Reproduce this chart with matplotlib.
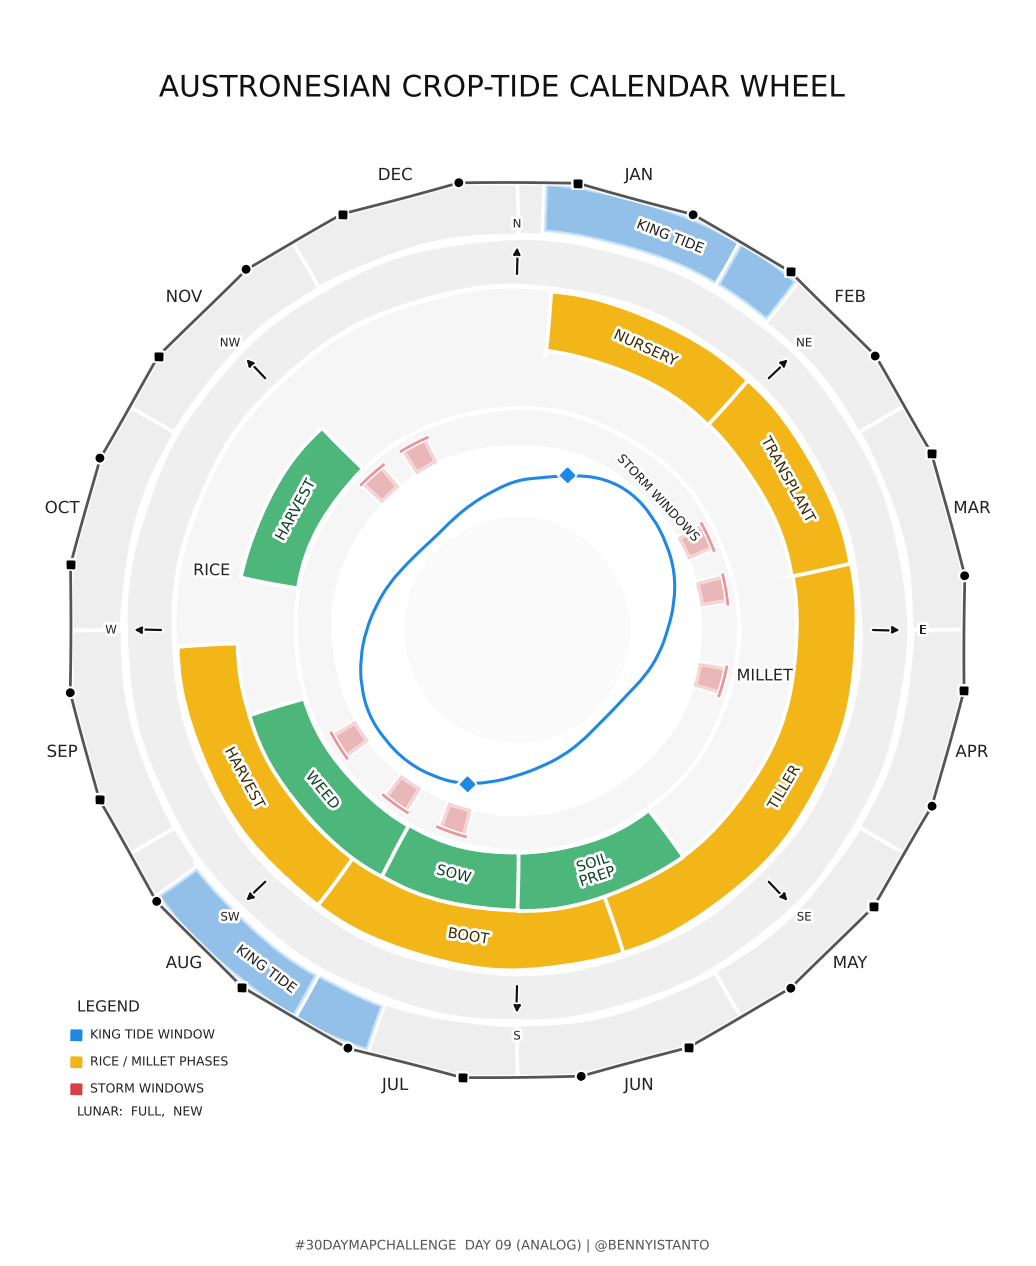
import numpy as np
import matplotlib.pyplot as plt
from matplotlib.patches import Wedge, Circle, Rectangle, PathPatch
from matplotlib.path import Path

plt.xkcd(scale=0.7, length=150, randomness=1.5)
plt.rcParams['font.family'] = ['DejaVu Sans']

title = 'AUSTRONESIAN CROP-TIDE CALENDAR WHEEL'
footer = '#30DAYMAPCHALLENGE  DAY 09 (ANALOG) | @BENNYISTANTO'

months = ['JAN', 'FEB', 'MAR', 'APR', 'MAY', 'JUN',
          'JUL', 'AUG', 'SEP', 'OCT', 'NOV', 'DEC']
compass = ['N', 'NE', 'E', 'SE', 'S', 'SW', 'W', 'NW']

# everything on the wheel is in degrees, clockwise from north (0 = start of Jan)
rice_phases = ['NURSERY', 'TRANSPLANT', 'TILLER', 'BOOT', 'HARVEST']
rice_start = [6, 43, 79, 162, 216]
rice_end = [43, 79, 162, 216, 267]

millet_phases = ['SOIL\nPREP', 'SOW', 'WEED', 'HARVEST']
millet_start = [144, 180, 209, 281]
millet_end = [180, 209, 252, 316]

king_start = [3.7, 199.5]
king_end = [38.8, 233.5]

storm_mid = [64, 79, 104, 198, 215, 237, 317, 331]
storm_width = 7

full_moon = [23.0, 52.6, 83.1, 113.0, 142.6, 171.8, 202.0, 233.0, 262.0, 292.4, 323.1, 352.6]
new_moon = [7.7, 37.3, 66.9, 97.7, 127.8, 157.7, 187.0, 217.6, 247.9, 278.3, 307.4, 337.2]

# tide line, sampled every 10 degrees (radius on the wheel)
tide_deg = [0, 10, 20, 30, 40, 50, 60, 70, 80, 90, 100, 110,
            120, 130, 140, 150, 160, 170, 180, 190, 200, 210, 220, 230,
            240, 250, 260, 270, 280, 290, 300, 310, 320, 330, 340, 350]
tide_r = [150, 155, 165, 175, 179, 177, 173, 168, 160, 151, 144, 136,
          128, 125, 125, 129, 134, 139, 146, 155, 164, 169, 172, 172,
          171, 166, 159, 151, 143, 136, 129, 125, 124, 128, 134, 141]
tide_peak = [18, 198]

legend_labels = ['KING TIDE WINDOW', 'RICE / MILLET PHASES', 'STORM WINDOWS']

BLUE = '#1e88e5'
YELLOW = '#f2b619'
GREEN = '#4db67b'
RED = '#d64045'


def xy(deg, r):
    a = np.deg2rad(np.asarray(deg, dtype=float))
    return r * np.sin(a), r * np.cos(a)


def wedge(d0, d1, r_in, r_out, **kw):
    return Wedge((0, 0), r_out, 90 - d1, 90 - d0, width=r_out - r_in, **kw)


def rot(d):
    d = d % 360
    r = -d
    if 90 < d < 270:
        r += 180
    return r


fig = plt.figure(figsize=(10.36, 12.66), dpi=100)
ax = fig.add_axes([0, 0, 1, 1])
ax.set_xlim(-517, 519)
ax.set_ylim(-636, 630)
ax.axis('off')

# month ring
for i in range(12):
    ax.add_patch(wedge(30 * i, 30 * (i + 1), 396, 448, fc='#eeeeee', ec='white', lw=1.5))

# king tide windows, split at month boundaries
# (the white halo effect paints the fill twice, so the alpha is lowered)
for s, e in zip(king_start, king_end):
    cuts = [s] + [b for b in range(0, 390, 30) if s < b < e] + [e]
    for a, b in zip(cuts[:-1], cuts[1:]):
        ax.add_patch(wedge(a, b, 398, 447, fc=(0.118, 0.533, 0.898, 0.25),
                           ec=(1, 1, 1, 0.5), lw=1.2))
    m = (s + e) / 2
    ax.text(*xy(m, 422), 'KING TIDE', fontsize=10, color='#222222',
            ha='center', va='center', rotation=rot(m))

# outer line through the lunar phases
phase_deg = sorted(full_moon + new_moon)
px, py = xy(phase_deg + phase_deg[:1], 451)
outer, = ax.plot(px, py, color='#555555', lw=2, zorder=3)
outer.set_sketch_params(0.4, 200, 1)
fx, fy = xy(full_moon, 451)
ax.plot(fx, fy, 'o', color='black', ms=5, zorder=4)
nx, ny = xy(new_moon, 451)
ax.plot(nx, ny, 's', color='black', ms=5, zorder=4)

for i, m in enumerate(months):
    ax.text(*xy(15 + 30 * i, 471), m, fontsize=12, ha='center', va='center', color='#222222')

# compass ring
ax.add_patch(Circle((0, 0), 391, fc='#efefef', ec='white', lw=2))
for i, c in enumerate(compass):
    d = 45 * i
    ax.annotate('', xy=xy(d, 383), xytext=xy(d, 356),
                arrowprops=dict(arrowstyle='-|>', color='#111111', lw=1.6,
                                mutation_scale=10, shrinkA=0, shrinkB=0))
    ax.text(*xy(d, 406), c, fontsize=8.5, ha='center', va='center', color='#222222')

# crop rings
ax.add_patch(Circle((0, 0), 343, fc='#f6f6f6', ec='white', lw=3))
for lab, s, e in zip(rice_phases, rice_start, rice_end):
    ax.add_patch(wedge(s, e, 281, 339, fc=YELLOW, ec='white', lw=1.5))
    m = (s + e) / 2
    ax.text(*xy(m, 310), lab, fontsize=10.5, color='#3a2d00', ha='center', va='center',
            rotation=rot(m))
for lab, s, e in zip(millet_phases, millet_start, millet_end):
    ax.add_patch(wedge(s, e, 224, 280, fc=GREEN, ec='white', lw=1.5))
    m = (s + e) / 2
    ax.text(*xy(m, 252), lab, fontsize=10.5, color='#0b4424', ha='center', va='center',
            rotation=rot(m), linespacing=0.95)

ax.text(*xy(281, 311), 'RICE', fontsize=11.5, ha='center', va='center', color='#222222')
ax.text(*xy(100.5, 252), 'MILLET', fontsize=11.5, ha='center', va='center', color='#222222')

# storm ring
ax.add_patch(Circle((0, 0), 221, fc='#f6f6f6', ec='white', lw=2))
ax.add_patch(Circle((0, 0), 183, fc='white', ec='white', lw=1))
ax.add_patch(Circle((0, 0), 113, fc='#fafafa', ec='none', lw=0))
for m in storm_mid:
    ax.add_patch(wedge(m - storm_width / 2, m + storm_width / 2, 186, 212,
                       fc=(0.84, 0.25, 0.27, 0.19), ec=(0.84, 0.25, 0.27, 0.1), lw=1.5))
    ex, ey = xy(np.linspace(m - storm_width / 2 - 0.5, m + storm_width / 2 + 0.5, 6), 213)
    ax.plot(ex, ey, color=(0.84, 0.25, 0.27, 0.55), lw=2)
ax.text(*xy(47, 193), 'STORM WINDOWS', fontsize=9, ha='center', va='center',
        rotation=rot(47), color='#222222')

# tide line: closed quadratic b-spline with the samples as control points
tx, ty = xy(tide_deg, np.array(tide_r))
pts = np.column_stack([tx, ty])
mids = (pts + np.roll(pts, -1, axis=0)) / 2
verts = [mids[-1]]
codes = [Path.MOVETO]
for k in range(len(pts)):
    verts += [pts[k], mids[k]]
    codes += [Path.CURVE3, Path.CURVE3]
tide = PathPatch(Path(verts, codes), fill=False, ec=BLUE, lw=2.2)
tide.set_sketch_params(None)
ax.add_patch(tide)
peak_r = np.interp(tide_peak, tide_deg + [360], tide_r + tide_r[:1])
kx, ky = xy(tide_peak, peak_r)
ax.plot(kx, ky, 'D', color=BLUE, ms=7)

# legend
ax.text(-440, -377, 'LEGEND', fontsize=11, ha='left', va='center', color='#222222')
for i, (lab, col) in enumerate(zip(legend_labels, [BLUE, YELLOW, RED])):
    y = -405 - 27 * i
    ax.add_patch(Rectangle((-446, y - 5.5), 11, 11, fc=col, ec='none'))
    ax.text(-427, y, lab, fontsize=9, ha='left', va='center', color='#222222')
ax.text(-440, -482, 'LUNAR:  FULL,  NEW', fontsize=9, ha='left', va='center', color='#222222')

fig.text(502 / 1036, 1 - 88 / 1266, title, fontsize=21.3, ha='center', va='center',
         color='#111111')
fig.text(502 / 1036, 1 - 1246 / 1266, footer, fontsize=9.5, ha='center', va='center',
         color='#555555')

fig.savefig('out.png', dpi=100)
